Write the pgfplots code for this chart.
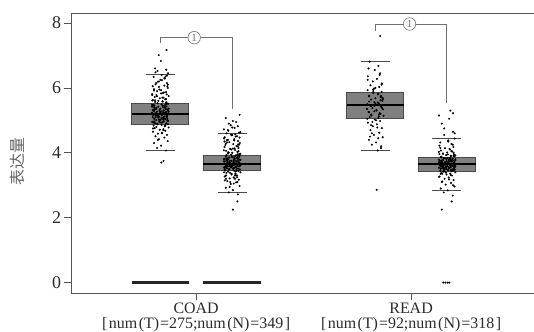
\documentclass[border=0pt]{standalone}
\usepackage{pgfplots}
\pgfplotsset{compat=1.18}
\usepackage{fontspec}
\setmainfont{Liberation Serif}
\newfontfamily\cjk{Noto Sans CJK SC}
\definecolor{axisgray}{HTML}{555555}
\definecolor{boxfill}{HTML}{808080}
\definecolor{boxedge}{HTML}{4A4A4A}
\definecolor{brgray}{HTML}{707070}
\definecolor{ticktext}{HTML}{2A2A2A}
\definecolor{labgray}{HTML}{666666}

\pgfplotstableread[row sep=\\]{
x y\\
0.838 3.70\\ 0.848 3.75\\ 0.860 4.07\\ 0.818 4.15\\ 0.837 4.22\\ 0.804 4.30\\ 0.868 4.36\\ 0.827 4.42\\ 0.852 4.47\\ 0.811 4.51\\
0.864 4.55\\ 0.822 4.59\\ 0.841 4.62\\ 0.799 4.65\\ 0.856 4.68\\ 0.831 4.71\\ 0.848 4.73\\ 0.807 4.76\\ 0.872 4.78\\ 0.815 4.80\\
0.854 4.82\\ 0.802 4.84\\ 0.839 4.86\\ 0.869 4.88\\ 0.820 4.89\\ 0.861 4.91\\ 0.809 4.92\\ 0.843 4.94\\ 0.796 4.95\\ 0.850 4.97\\
0.829 4.98\\ 0.866 5.00\\ 0.814 5.01\\ 0.834 5.02\\ 0.858 5.04\\ 0.805 5.05\\ 0.847 5.06\\ 0.824 5.08\\ 0.863 5.09\\ 0.798 5.10\\
0.827 5.11\\ 0.852 5.12\\ 0.811 5.13\\ 0.864 5.14\\ 0.822 5.15\\ 0.841 5.16\\ 0.799 5.17\\ 0.856 5.18\\ 0.831 5.19\\ 0.848 5.20\\
0.807 5.21\\ 0.872 5.22\\ 0.815 5.23\\ 0.795 5.24\\ 0.845 5.25\\ 0.860 5.26\\ 0.818 5.27\\ 0.837 5.28\\ 0.804 5.29\\ 0.868 5.30\\
0.850 5.31\\ 0.829 5.32\\ 0.866 5.33\\ 0.814 5.35\\ 0.834 5.36\\ 0.858 5.37\\ 0.805 5.39\\ 0.847 5.40\\ 0.824 5.42\\ 0.863 5.43\\
0.798 5.45\\ 0.854 5.46\\ 0.802 5.48\\ 0.839 5.49\\ 0.869 5.51\\ 0.820 5.53\\ 0.861 5.55\\ 0.809 5.57\\ 0.843 5.59\\ 0.796 5.61\\
0.799 5.63\\ 0.856 5.65\\ 0.831 5.68\\ 0.848 5.70\\ 0.807 5.72\\ 0.872 5.75\\ 0.815 5.78\\ 0.795 5.81\\ 0.845 5.84\\ 0.860 5.87\\
0.818 5.90\\ 0.837 5.93\\ 0.804 5.96\\ 0.868 6.00\\ 0.827 6.03\\ 0.852 6.07\\ 0.811 6.11\\ 0.864 6.15\\ 0.822 6.19\\ 0.841 6.24\\
0.854 6.29\\ 0.802 6.34\\ 0.839 6.40\\ 0.869 6.45\\ 0.820 6.52\\ 0.861 6.56\\ 0.809 6.60\\ 0.836 6.83\\ 0.826 7.01\\ 0.862 7.17\\
0.829 4.95\\ 0.866 5.05\\ 0.814 5.15\\ 0.834 5.25\\ 0.858 5.35\\ 0.805 5.45\\ 0.847 4.70\\ 0.824 5.60\\ 0.863 5.80\\ 0.798 6.05\\
0.818 4.90\\ 0.837 4.93\\ 0.804 4.97\\ 0.868 5.00\\ 0.827 5.03\\ 0.852 5.06\\ 0.811 5.09\\ 0.864 5.12\\ 0.822 5.15\\ 0.841 5.18\\
0.799 5.21\\ 0.856 5.24\\ 0.831 5.27\\ 0.848 5.30\\ 0.807 5.33\\ 0.872 5.36\\ 0.815 5.39\\ 0.795 5.42\\ 0.845 5.45\\ 0.860 5.50\\
0.861 5.55\\ 0.809 5.62\\ 0.843 5.70\\ 0.796 5.78\\ 0.850 5.86\\ 0.829 5.95\\ 0.866 6.05\\ 0.814 6.15\\ 0.834 6.25\\ 0.858 6.35\\
0.805 4.92\\ 0.847 5.02\\ 0.824 5.13\\ 0.863 5.22\\ 0.798 5.32\\ 0.854 5.41\\ 0.802 5.17\\ 0.839 5.08\\ 0.869 4.98\\ 0.820 4.88\\
0.822 4.40\\ 0.841 4.60\\ 0.799 4.75\\ 0.856 4.85\\ 0.831 5.00\\ 0.848 5.10\\ 0.807 5.20\\ 0.872 5.28\\ 0.815 5.38\\ 0.795 5.48\\
0.845 5.58\\ 0.860 5.66\\ 0.818 5.74\\ 0.837 5.83\\ 0.804 5.92\\ 0.868 6.10\\ 0.827 6.20\\ 0.852 6.30\\ 0.811 6.48\\ 0.864 6.38\\
}\coadT

\pgfplotstableread[row sep=\\]{
x y\\
1.171 2.25\\ 1.192 2.50\\ 1.194 2.72\\ 1.152 2.78\\ 1.171 2.85\\ 1.138 2.92\\ 1.202 2.98\\ 1.161 3.04\\ 1.186 3.09\\ 1.145 3.13\\
1.198 3.17\\ 1.156 3.21\\ 1.175 3.24\\ 1.133 3.27\\ 1.190 3.30\\ 1.165 3.33\\ 1.182 3.35\\ 1.141 3.38\\ 1.206 3.40\\ 1.149 3.42\\
1.188 3.44\\ 1.136 3.46\\ 1.173 3.47\\ 1.203 3.49\\ 1.154 3.50\\ 1.195 3.51\\ 1.143 3.53\\ 1.177 3.54\\ 1.130 3.55\\ 1.184 3.56\\
1.163 3.57\\ 1.200 3.58\\ 1.148 3.59\\ 1.168 3.60\\ 1.192 3.61\\ 1.139 3.62\\ 1.181 3.63\\ 1.158 3.64\\ 1.197 3.65\\ 1.132 3.66\\
1.161 3.67\\ 1.186 3.68\\ 1.145 3.69\\ 1.198 3.70\\ 1.156 3.71\\ 1.175 3.72\\ 1.133 3.73\\ 1.190 3.74\\ 1.165 3.75\\ 1.182 3.76\\
1.141 3.77\\ 1.206 3.78\\ 1.149 3.80\\ 1.129 3.81\\ 1.179 3.82\\ 1.194 3.84\\ 1.152 3.85\\ 1.171 3.87\\ 1.138 3.88\\ 1.202 3.90\\
1.184 3.92\\ 1.163 3.94\\ 1.200 3.96\\ 1.148 3.98\\ 1.168 4.00\\ 1.192 4.03\\ 1.139 4.06\\ 1.181 4.09\\ 1.158 4.12\\ 1.197 4.15\\
1.132 4.18\\ 1.188 4.21\\ 1.136 4.24\\ 1.173 4.27\\ 1.203 4.30\\ 1.154 4.33\\ 1.195 4.36\\ 1.143 4.39\\ 1.177 4.42\\ 1.130 4.45\\
1.133 4.48\\ 1.190 4.51\\ 1.165 4.54\\ 1.182 4.57\\ 1.141 4.60\\ 1.206 4.64\\ 1.149 4.68\\ 1.129 4.72\\ 1.179 4.77\\ 1.194 4.82\\
1.152 4.90\\ 1.171 4.98\\ 1.138 5.07\\ 1.202 5.17\\ 1.161 3.55\\ 1.186 3.65\\ 1.145 3.75\\ 1.198 3.85\\ 1.156 3.60\\ 1.175 3.70\\
1.188 3.50\\ 1.136 3.58\\ 1.173 3.62\\ 1.203 3.68\\ 1.154 3.72\\ 1.195 3.78\\ 1.143 3.83\\ 1.177 3.45\\ 1.130 3.40\\ 1.184 3.35\\
1.163 4.10\\ 1.200 4.25\\ 1.148 4.40\\ 1.168 4.55\\ 1.192 3.95\\ 1.139 3.30\\ 1.181 3.20\\ 1.158 3.10\\ 1.197 4.05\\ 1.132 4.35\\
1.152 3.48\\ 1.171 3.52\\ 1.138 3.56\\ 1.202 3.60\\ 1.161 3.63\\ 1.186 3.66\\ 1.145 3.69\\ 1.198 3.72\\ 1.156 3.75\\ 1.175 3.78\\
1.133 3.81\\ 1.190 3.84\\ 1.165 3.87\\ 1.182 3.90\\ 1.141 3.93\\ 1.206 3.97\\ 1.149 4.02\\ 1.129 4.08\\ 1.179 4.14\\ 1.194 4.20\\
1.195 4.26\\ 1.143 4.32\\ 1.177 4.38\\ 1.130 4.44\\ 1.184 4.50\\ 1.163 4.56\\ 1.200 4.62\\ 1.148 4.70\\ 1.168 4.78\\ 1.192 3.10\\
1.139 3.20\\ 1.181 3.30\\ 1.158 3.38\\ 1.197 3.44\\ 1.132 3.50\\ 1.188 3.57\\ 1.136 3.64\\ 1.173 3.71\\ 1.203 3.79\\ 1.154 3.86\\
1.156 2.95\\ 1.175 3.05\\ 1.133 3.15\\ 1.190 3.25\\ 1.165 3.35\\ 1.182 3.42\\ 1.141 3.53\\ 1.206 3.61\\ 1.149 3.67\\ 1.129 3.74\\
1.179 3.83\\ 1.194 3.91\\ 1.152 4.00\\ 1.171 4.13\\ 1.138 4.28\\ 1.202 4.47\\ 1.161 4.85\\ 1.186 4.95\\ 1.145 3.59\\ 1.198 3.69\\
}\coadN

\pgfplotstableread[row sep=\\]{
x y\\
1.840 2.86\\ 1.845 4.07\\ 1.860 4.15\\ 1.818 4.25\\ 1.837 4.32\\ 1.804 4.40\\ 1.868 4.48\\ 1.827 4.55\\ 1.852 4.62\\ 1.811 4.70\\
1.864 4.76\\ 1.822 4.82\\ 1.841 4.88\\ 1.799 4.93\\ 1.856 4.98\\ 1.831 5.03\\ 1.848 5.07\\ 1.807 5.10\\ 1.872 5.14\\ 1.815 5.18\\
1.854 5.22\\ 1.802 5.26\\ 1.839 5.30\\ 1.869 5.34\\ 1.820 5.38\\ 1.861 5.42\\ 1.809 5.46\\ 1.843 5.48\\ 1.796 5.50\\ 1.850 5.53\\
1.829 5.56\\ 1.866 5.60\\ 1.814 5.64\\ 1.834 5.68\\ 1.858 5.72\\ 1.805 5.76\\ 1.847 5.80\\ 1.824 5.84\\ 1.863 5.88\\ 1.798 5.93\\
1.827 5.98\\ 1.852 6.03\\ 1.811 6.08\\ 1.864 6.14\\ 1.822 6.20\\ 1.841 6.28\\ 1.799 6.36\\ 1.856 6.45\\ 1.831 6.55\\ 1.848 6.68\\
1.807 6.81\\ 1.856 7.60\\ 1.815 5.15\\ 1.795 5.35\\ 1.845 5.55\\ 1.860 5.75\\ 1.818 4.60\\ 1.837 5.00\\ 1.804 5.25\\ 1.868 5.65\\
1.850 5.12\\ 1.829 5.45\\ 1.866 5.70\\ 1.814 4.85\\ 1.834 6.00\\ 1.858 5.20\\ 1.805 5.58\\ 1.847 4.45\\ 1.824 5.90\\ 1.863 5.40\\
1.861 4.20\\ 1.809 4.50\\ 1.843 4.78\\ 1.796 5.05\\ 1.850 5.18\\ 1.829 5.28\\ 1.866 5.37\\ 1.814 5.44\\ 1.834 5.52\\ 1.858 5.62\\
1.805 5.74\\ 1.847 5.82\\ 1.824 5.95\\ 1.863 6.10\\ 1.798 6.25\\ 1.854 6.40\\ 1.802 6.60\\ 1.839 5.32\\ 1.869 5.67\\ 1.820 4.95\\
}\readT

\pgfplotstableread[row sep=\\]{
x y\\
2.143 2.25\\ 2.189 2.50\\ 2.194 2.68\\ 2.152 2.78\\ 2.171 2.84\\ 2.138 2.90\\ 2.202 2.96\\ 2.161 3.02\\ 2.186 3.07\\ 2.145 3.12\\
2.198 3.16\\ 2.156 3.20\\ 2.175 3.24\\ 2.133 3.27\\ 2.190 3.30\\ 2.165 3.33\\ 2.182 3.36\\ 2.141 3.38\\ 2.206 3.40\\ 2.149 3.42\\
2.188 3.43\\ 2.136 3.45\\ 2.173 3.46\\ 2.203 3.48\\ 2.154 3.49\\ 2.195 3.50\\ 2.143 3.52\\ 2.177 3.53\\ 2.130 3.54\\ 2.184 3.55\\
2.163 3.56\\ 2.200 3.57\\ 2.148 3.58\\ 2.168 3.59\\ 2.192 3.60\\ 2.139 3.61\\ 2.181 3.62\\ 2.158 3.63\\ 2.197 3.64\\ 2.132 3.65\\
2.161 3.66\\ 2.186 3.67\\ 2.145 3.68\\ 2.198 3.69\\ 2.156 3.70\\ 2.175 3.71\\ 2.133 3.72\\ 2.190 3.73\\ 2.165 3.74\\ 2.182 3.75\\
2.141 3.76\\ 2.206 3.77\\ 2.149 3.78\\ 2.129 3.79\\ 2.179 3.81\\ 2.194 3.82\\ 2.152 3.84\\ 2.171 3.85\\ 2.138 3.87\\ 2.202 3.89\\
2.184 3.91\\ 2.163 3.93\\ 2.200 3.95\\ 2.148 3.98\\ 2.168 4.01\\ 2.192 4.04\\ 2.139 4.07\\ 2.181 4.10\\ 2.158 4.14\\ 2.197 4.18\\
2.132 4.22\\ 2.188 4.27\\ 2.136 4.32\\ 2.173 4.38\\ 2.203 4.44\\ 2.154 4.55\\ 2.195 4.65\\ 2.143 4.90\\ 2.177 5.05\\ 2.130 5.15\\
2.183 5.30\\ 2.195 5.22\\ 2.165 3.50\\ 2.182 3.60\\ 2.141 3.70\\ 2.206 3.80\\ 2.149 3.55\\ 2.129 3.65\\ 2.179 3.75\\ 2.194 3.45\\
2.152 3.62\\ 2.171 3.68\\ 2.138 3.58\\ 2.202 3.72\\ 2.161 3.40\\ 2.186 3.90\\ 2.145 3.35\\ 2.198 4.00\\ 2.156 3.52\\ 2.175 3.78\\
2.152 3.44\\ 2.171 3.47\\ 2.138 3.51\\ 2.202 3.54\\ 2.161 3.57\\ 2.186 3.60\\ 2.145 3.63\\ 2.198 3.66\\ 2.156 3.69\\ 2.175 3.72\\
2.133 3.75\\ 2.190 3.78\\ 2.165 3.81\\ 2.182 3.84\\ 2.141 3.88\\ 2.206 3.92\\ 2.149 3.97\\ 2.129 4.03\\ 2.179 4.12\\ 2.194 4.25\\
2.195 3.00\\ 2.143 3.10\\ 2.177 3.18\\ 2.130 3.26\\ 2.184 3.32\\ 2.163 3.39\\ 2.200 3.46\\ 2.148 3.53\\ 2.168 3.59\\ 2.192 3.65\\
2.139 3.71\\ 2.181 3.77\\ 2.158 3.83\\ 2.197 3.90\\ 2.132 3.96\\ 2.188 4.05\\ 2.136 4.15\\ 2.173 4.35\\ 2.203 4.60\\ 2.154 4.75\\
2.156 3.49\\ 2.175 3.56\\ 2.133 3.62\\ 2.190 3.67\\ 2.165 3.74\\ 2.182 3.80\\ 2.141 3.86\\ 2.206 3.58\\ 2.149 3.64\\ 2.129 3.70\\
2.179 3.53\\ 2.194 3.76\\ 2.152 3.42\\ 2.171 3.95\\ 2.138 3.35\\ 2.202 3.61\\ 2.161 3.68\\ 2.186 3.47\\ 2.145 3.73\\ 2.198 3.66\\
2.150 0\\ 2.160 0\\ 2.170 0\\ 2.178 0\\
}\readN

\begin{document}
\begin{tikzpicture}
\begin{axis}[
  at={(0,0)}, anchor=south west,
  scale only axis, width=462.5bp, height=280bp,
  xmin=0.420, xmax=2.572, ymin=-0.33, ymax=8.30,
  axis x line*=bottom, axis y line*=left,
  axis line style={axisgray, line width=0.8bp},
  xtick={1,2},
  xticklabels={{COAD\\{[}\hspace{1.5pt}num\hspace{1.5pt}(T)\hspace{1pt}=275;num\hspace{1.5pt}(N)\hspace{1pt}=349\hspace{1.5pt}]},
               {READ\\{[}\hspace{1.5pt}num\hspace{1.5pt}(T)\hspace{1pt}=92;num\hspace{1.5pt}(N)\hspace{1pt}=318\hspace{1.5pt}]}},
  ytick={0,2,4,6,8},
  tick align=outside, major tick length=7bp,
  tick style={axisgray, line width=0.8bp},
  /pgf/number format/assume math mode=true,
  yticklabel style={font=\fontsize{18}{18}\selectfont, text=ticktext},
  xticklabel style={font=\fontsize{16}{15}\selectfont, text=ticktext, align=center, yshift=1bp},
  ylabel={\cjk 表达量},
  ylabel style={at={(axis description cs:-0.116,0.47)}, anchor=center, font=\fontsize{16}{16}\selectfont, text=labgray},
  clip=false,
]
% top frame line
\draw[axisgray, line width=0.8bp] (rel axis cs:0,1) -- (rel axis cs:1,1);
% boxes (quartiles)
\addplot[fill=boxfill, draw=boxedge, line width=0.8bp] coordinates {(0.700,4.87) (0.966,4.87) (0.966,5.52) (0.700,5.52)} -- cycle;
\addplot[fill=boxfill, draw=boxedge, line width=0.8bp] coordinates {(1.034,3.46) (1.300,3.46) (1.300,3.93) (1.034,3.93)} -- cycle;
\addplot[fill=boxfill, draw=boxedge, line width=0.8bp] coordinates {(1.700,5.07) (1.966,5.07) (1.966,5.85) (1.700,5.85)} -- cycle;
\addplot[fill=boxfill, draw=boxedge, line width=0.8bp] coordinates {(2.034,3.43) (2.300,3.43) (2.300,3.85) (2.034,3.85)} -- cycle;
% medians
\addplot[black, line width=2bp] coordinates {(0.700,5.20) (0.966,5.20)};
\addplot[black, line width=2bp] coordinates {(1.034,3.67) (1.300,3.67)};
\addplot[black, line width=2bp] coordinates {(1.700,5.48) (1.966,5.48)};
\addplot[black, line width=2bp] coordinates {(2.034,3.64) (2.300,3.64)};
% whisker caps
\addplot[boxedge, line width=0.8bp] coordinates {(0.7655,6.42) (0.9005,6.42)};
\addplot[boxedge, line width=0.8bp] coordinates {(0.7655,4.07) (0.9005,4.07)};
\addplot[boxedge, line width=0.8bp] coordinates {(1.0995,4.60) (1.2345,4.60)};
\addplot[boxedge, line width=0.8bp] coordinates {(1.0995,2.78) (1.2345,2.78)};
\addplot[boxedge, line width=0.8bp] coordinates {(1.7655,6.81) (1.9005,6.81)};
\addplot[boxedge, line width=0.8bp] coordinates {(1.7655,4.07) (1.9005,4.07)};
\addplot[boxedge, line width=0.8bp] coordinates {(2.0995,4.44) (2.2345,4.44)};
\addplot[boxedge, line width=0.8bp] coordinates {(2.0995,2.84) (2.2345,2.84)};
% zero-level bars
\addplot[line width=2.2bp, color=black!85, mark=none] coordinates {(0.700,0) (0.966,0)};
\addplot[line width=2.2bp, color=black!85, mark=none] coordinates {(1.034,0) (1.300,0)};
% points
\addplot[only marks, mark=*, mark size=0.8bp, black] table[x=x,y=y] {\coadT};
\addplot[only marks, mark=*, mark size=0.8bp, black] table[x=x,y=y] {\coadN};
\addplot[only marks, mark=*, mark size=0.8bp, black] table[x=x,y=y] {\readT};
\addplot[only marks, mark=*, mark size=0.8bp, black] table[x=x,y=y] {\readN};
% significance brackets
\draw[brgray, line width=0.8bp] (axis cs:0.832,7.38) |- (axis cs:1.167,7.55) -- (axis cs:1.167,5.34);
\node[circle, draw=brgray, fill=white, line width=0.6bp, inner sep=0pt, minimum size=12.5bp,
  font=\fontsize{11}{11}\selectfont, text=brgray] at (axis cs:0.991,7.55) {1};
\draw[brgray, line width=0.8bp] (axis cs:1.835,7.76) |- (axis cs:2.166,7.97) -- (axis cs:2.166,5.53);
\node[circle, draw=brgray, fill=white, line width=0.6bp, inner sep=0pt, minimum size=12.5bp,
  font=\fontsize{11}{11}\selectfont, text=brgray] at (axis cs:1.993,7.97) {1};
\end{axis}
\pgfresetboundingbox
\path[use as bounding box] (-71.5bp,-38.7bp) rectangle (462.5bp,293.3bp);
\end{tikzpicture}
\end{document}
